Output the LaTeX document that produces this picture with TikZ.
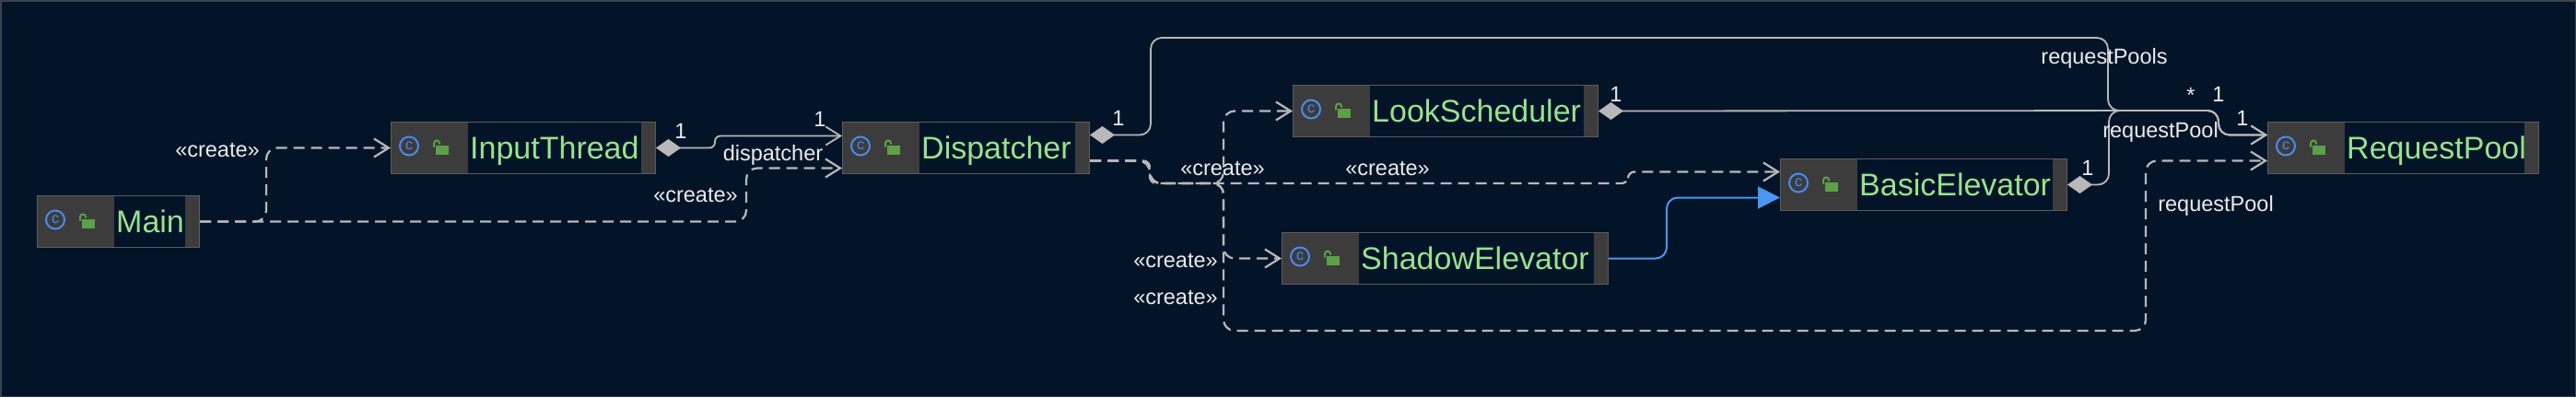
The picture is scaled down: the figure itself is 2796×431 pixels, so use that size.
\documentclass[tikz,border=0pt]{standalone}
\usepackage{fontspec}
\setmainfont{Liberation Sans}
\usetikzlibrary{arrows.meta}
\definecolor{bgc}{RGB}{4,20,40}
\definecolor{framec}{RGB}{58,66,80}
\definecolor{boxgray}{RGB}{60,60,60}
\definecolor{boxline}{RGB}{92,92,92}
\definecolor{clsgreen}{RGB}{152,226,142}
\definecolor{iconblue}{RGB}{74,138,240}
\definecolor{lockgreen}{RGB}{92,160,72}
\definecolor{linegray}{RGB}{184,184,184}
\definecolor{inhblue}{RGB}{76,150,242}
\tikzset{%
  createarrow/.style = {-{Straight Barb[length=16pt,width=20pt]},draw=linegray,
        line width=2.2pt,dash pattern=on 12pt off 7pt,rounded corners=12pt},
  ownarrow/.style = {{Diamond[length=27pt,width=19pt]}-{Straight Barb[length=16pt,width=20pt]},
        draw=linegray,solid,line width=1.8pt,rounded corners=12pt},
  extendarrow/.style = {-{Triangle[length=24pt,width=24pt]},draw=inhblue,
        solid,line width=2pt,rounded corners=12pt},
  cls/.style = {rectangle,draw=boxline,fill=boxgray,line width=1pt,
        minimum height=56pt,inner sep=0pt},
  clsname/.style = {font=\fontsize{34}{40}\selectfont,text=clsgreen,inner sep=0pt},
  ctext/.style = {font=\fontsize{16}{16}\selectfont,text=iconblue,inner sep=0pt},
  lbl/.style = {font=\fontsize{23.5}{28}\selectfont,text=white!92!black,inner sep=0pt}
}
\newcommand{\classnode}[5]{%
  \node[cls,minimum width=#4pt,anchor=north west] (#1) at (#2,#3) {};
  \fill[bgc] ([xshift=84pt,yshift=-1pt]#1.north west) rectangle ([xshift=-16pt,yshift=1pt]#1.south east);
  \draw[iconblue,line width=2pt] ([xshift=20pt,yshift=2pt]#1.west) circle (10pt);
  \node[ctext] (#1c) at ([xshift=20pt,yshift=2pt]#1.west) {c};
  \fill[lockgreen] ([xshift=49pt,yshift=-7pt]#1.west) rectangle ([xshift=63pt,yshift=3pt]#1.west);
  \draw[lockgreen,line width=2pt] ([xshift=47pt,yshift=1pt]#1.west) -- ++(0,4pt)
        arc[start angle=180,end angle=0,radius=3pt] -- ++(0,-1pt);
  \node[clsname,anchor=base west] (#1t) at ([xshift=86pt,yshift=-12pt]#1.west) {#5};
}
\begin{document}
\begin{tikzpicture}[x=1pt,y=-1pt]
\useasboundingbox (0,0) rectangle (2796,431);
\fill[bgc] (0,0) rectangle (2796,431);
\draw[framec,line width=1.5pt] (0.75,0.75) rectangle (2795.25,430.25);

\classnode{Main}{40}{212}{176}{Main}
\classnode{InputThread}{424}{132}{287}{InputThread}
\classnode{Dispatcher}{914}{132}{268}{Dispatcher}
\classnode{LookScheduler}{1403}{92}{331}{LookScheduler}
\classnode{ShadowElevator}{1391}{252}{354}{ShadowElevator}
\classnode{BasicElevator}{1932}{172}{311}{BasicElevator}
\classnode{RequestPool}{2461}{132}{294}{RequestPool}

\draw[createarrow] (Main.east) -- ++(72,0) |- (InputThread.west);
\draw[createarrow] (Main.east) -- ++(593,0) |- ([yshift=-22pt]Dispatcher.west);
\draw[ownarrow,rounded corners=6pt] (InputThread.east) -- ++(64,0) |- ([yshift=13pt]Dispatcher.west);
\draw[ownarrow] ([yshift=14pt]Dispatcher.east) -- ++(66,0) |- (2288,41) |- (2408,120)
        |- ([yshift=14pt]RequestPool.west);
\draw[ownarrow] (LookScheduler.east) -- (2408,120) |- ([yshift=14pt]RequestPool.west);
\draw[ownarrow] (BasicElevator.east) -- ++(45,0) |- (2408,120) |- ([yshift=14pt]RequestPool.west);
\draw[createarrow] ([yshift=-14pt]Dispatcher.east) -- ++(65,0) |- (1328,199) |- (LookScheduler.west);
\draw[createarrow] ([yshift=-14pt]Dispatcher.east) -- ++(65,0) |- (1328,199) |- (ShadowElevator.west);
\draw[createarrow] ([yshift=-14pt]Dispatcher.east) -- ++(65,0) |- (1328,199) |- (2329,359)
        |- ([yshift=-14pt]RequestPool.west);
\draw[createarrow,rounded corners=7pt] ([yshift=-14pt]Dispatcher.east) -- ++(65,0) |- (1767,199)
        |- ([yshift=14pt]BasicElevator.west);
\draw[extendarrow] (ShadowElevator.east) -- ++(63,0) |- ([yshift=-14pt]BasicElevator.west);

\node[lbl] (crInput) at (236,163) {«create»};
\node[lbl] (crDisp) at (755,212) {«create»};
\node[lbl] (mInput) at (739,142) {1};
\node[lbl] (mDispIn) at (890,129) {1};
\node[lbl] (rDisp) at (839,168) {dispatcher};
\node[lbl] (mDispOut) at (1214,128) {1};
\node[lbl] (rPools) at (2284,63) {requestPools};
\node[lbl] (mStar) at (2378,103) {*};
\node[lbl] (mPoolA) at (2408,102) {1};
\node[lbl] (mPoolB) at (2434,128) {1};
\node[lbl] (rPoolA) at (2345,143) {requestPool};
\node[lbl] (rPoolB) at (2405,223) {requestPool};
\node[lbl] (mLook) at (1754,102) {1};
\node[lbl] (mBasic) at (2266,182) {1};
\node[lbl] (crLook) at (1327,183) {«create»};
\node[lbl] (crBasic) at (1506,183) {«create»};
\node[lbl] (crShadow) at (1276,283) {«create»};
\node[lbl] (crPool) at (1276,323) {«create»};
\end{tikzpicture}
\end{document}
